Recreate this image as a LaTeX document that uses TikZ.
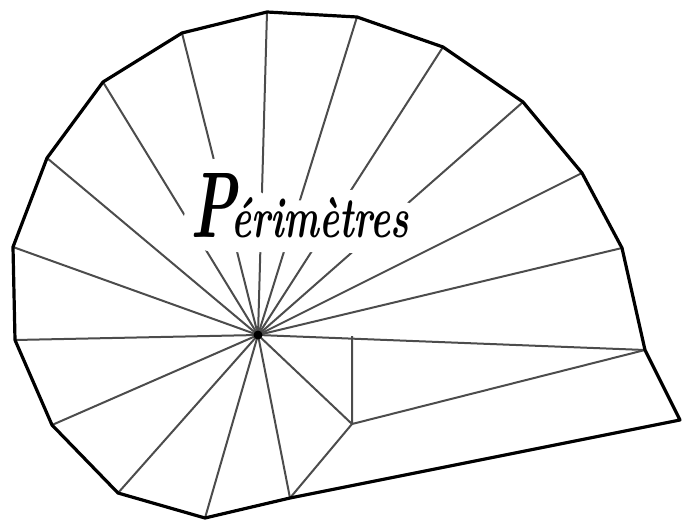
\documentclass[tikz,border=0pt]{standalone}
\newcommand{\capP}{\resizebox{46pt}{64pt}{\bfseries\itshape P}}
\newcommand{\restword}{\resizebox{178pt}{40pt}{\bfseries\itshape\'erim\`etres}}
\begin{document}
\begin{tikzpicture}[x=1pt,y=-1pt,
  spoke/.style={draw=black!70, line width=2pt},
  rim/.style={draw=black, line width=3.2pt, line join=round},
  halo/.style={fill=white, rounded corners=6pt},
  titletext/.style={inner sep=0pt, anchor=base west}]
\useasboundingbox (0,0) rectangle (683,522);
\coordinate (C) at (258,335);
\coordinate (L1) at (15,340);
\coordinate (L2) at (13,247);
\coordinate (L3) at (47,158);
\coordinate (L4) at (103,82);
\coordinate (L5) at (182,33);
\coordinate (L6) at (267,12);
\coordinate (L7) at (357,17);
\coordinate (L8) at (443,47);
\coordinate (L9) at (523,102);
\coordinate (L10) at (582,173);
\coordinate (L11) at (622,248);
\coordinate (L12) at (645,350);
\coordinate (L13) at (680,420);
\coordinate (L14) at (290,498);
\coordinate (L15) at (205,518);
\coordinate (L16) at (118,493);
\coordinate (L17) at (52,425);
\coordinate (A) at (352,336);
\coordinate (B) at (352,424);
% spokes
\foreach \v in {L1,L2,L3,L4,L5,L6,L7,L8,L9,L10,L11,L12,L14,L15,L16,L17,B}
  \draw[spoke] (C) -- (\v);
\draw[spoke] (A) -- (B) -- (L12);
\draw[spoke] (B) -- (L14);
% rim
\draw[rim] (L1) -- (L2) -- (L3) -- (L4) -- (L5) -- (L6) -- (L7) -- (L8) -- (L9)
  -- (L10) -- (L11) -- (L12) -- (L13) -- (L14) -- (L15) -- (L16) -- (L17) -- cycle;
% centre dot
\fill[black] (C) circle (4.5);
% white area behind the title
\fill[halo] (183,220) -- (192,185) -- (205,161) -- (222,157) -- (240,176) -- (262,194)
  -- (300,201) -- (330,196) -- (352,189) -- (370,193) -- (390,201) -- (410,202)
  -- (421,215) -- (419,245) -- (405,251) -- (360,253) -- (300,252) -- (210,252)
  -- (186,244) -- cycle;
% title
\node[titletext] (titleP) at (190,237) {\capP};
\node[titletext] (titlerest) at (231,237) {\restword};
\end{tikzpicture}
\end{document}
